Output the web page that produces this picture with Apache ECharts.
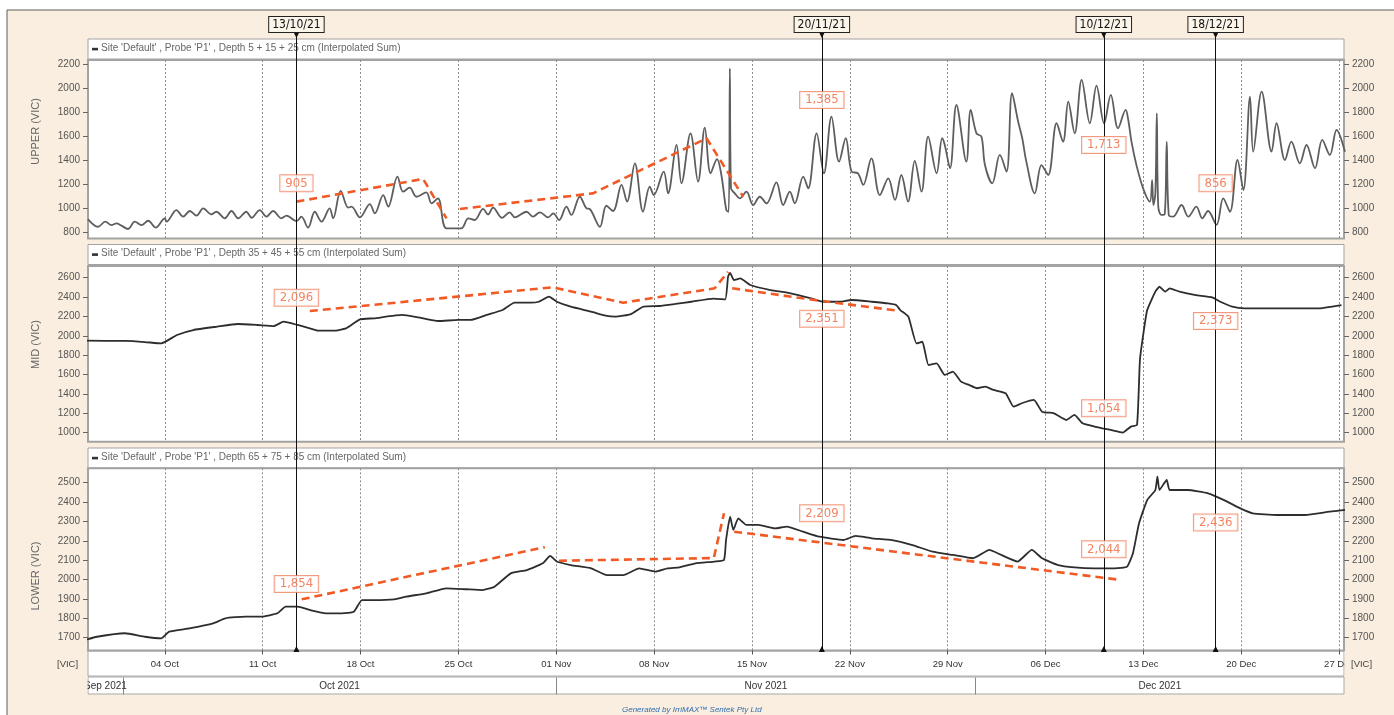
<!DOCTYPE html>
<html><head><meta charset="utf-8">
<script src="https://cdn.jsdelivr.net/npm/echarts@6/dist/echarts.min.js"></script>
<style>html,body{margin:0;padding:0;background:#fff}#c{width:1394px;height:715px}</style>
</head><body><div id="c"></div>
<script>
// ---------------- data ----------------
const markerDates = ['2021-10-13 10:00','2021-11-20 00:00','2021-12-10 04:00','2021-12-18 04:00'];
const markerLabels = ['13/10/21','20/11/21','10/12/21','18/12/21'];
const weekTicks = ['10-04','10-11','10-18','10-25','11-01','11-08','11-15','11-22','11-29','12-06','12-13','12-20','12-27'];
const monthStarts = ['10-01','11-01','12-01'];
const upperTicks = [800,1000,1200,1400,1600,1800,2000,2200];
const midTicks = [1000,1200,1400,1600,1800,2000,2200,2400,2600];
const lowerTicks = [1700,1800,1900,2000,2100,2200,2300,2400,2500];
const panelTitles = [
  "Site 'Default' , Probe 'P1' , Depth 5 + 15 + 25 cm (Interpolated Sum)",
  "Site 'Default' , Probe 'P1' , Depth 35 + 45 + 55 cm (Interpolated Sum)",
  "Site 'Default' , Probe 'P1' , Depth 65 + 75 + 85 cm (Interpolated Sum)"
];
const axisNames = ['UPPER (VIC)','MID (VIC)','LOWER (VIC)'];

const upperSeries = [
['09-28 12:00',908],['09-29 05:30',844],['09-29 18:00',886],['09-30 04:30',858],['09-30 13:00',872],['09-30 21:30',853],
['10-01 09:00',825],['10-01 20:30',886],['10-02 08:00',858],['10-02 19:30',894],['10-03 08:30',836],['10-04 00:00',914],
['10-04 03:00',886],['10-04 20:00',983],['10-05 07:30',928],['10-05 19:00',975],['10-06 06:30',936],['10-06 18:00',997],
['10-07 08:00',947],['10-07 16:30',969],['10-08 07:00',914],['10-08 18:30',975],['10-09 06:00',914],['10-09 20:00',969],
['10-10 05:00',919],['10-10 19:00',983],['10-11 06:30',928],['10-11 18:00',975],['10-12 08:00',914],['10-12 17:00',936],
['10-13 10:00',890],['10-13 18:30',928],['10-14 06:00',836],['10-14 17:30',969],['10-15 05:00',886],['10-15 19:00',997],
['10-16 01:00',914],['10-16 14:00',1142],['10-17 03:00',1003],['10-17 08:30',1011],['10-17 23:00',922],['10-18 16:00',1033],
['10-19 00:30',956],['10-19 15:00',1108],['10-19 23:30',1011],['10-20 15:30',1261],['10-21 01:00',1136],['10-21 12:30',1169],
['10-22 00:00',1094],['10-22 17:00',1131],['10-23 02:00',1039],['10-23 13:00',1081],['10-24 03:30',831],['10-25 05:00',831],
['10-25 17:00',914],['10-26 04:00',900],['10-26 18:30',992],['10-27 03:00',947],['10-27 11:30',1003],['10-28 03:00',918],
['10-28 16:00',964],['10-29 01:00',922],['10-29 21:00',969],['10-30 08:00',928],['10-30 20:00',964],['10-31 10:00',922],
['10-31 19:00',956],['11-01 05:00',900],['11-01 17:30',1011],['11-02 02:00',942],['11-02 16:30',1094],['11-03 04:00',997],
['11-03 09:30',992],['11-04 03:00',844],['11-04 14:00',1019],['11-05 01:30',975],['11-05 16:00',1192],['11-06 01:30',1053],
['11-06 15:00',1372],['11-07 05:00',969],['11-07 16:30',1178],['11-07 23:30',1108],['11-08 16:30',1303],['11-09 00:00',1122],
['11-09 14:30',1525],['11-09 23:00',1206],['11-10 14:30',1622],['11-11 03:30',1219],['11-11 15:00',1669],['11-12 01:00',1289],
['11-12 12:00',1408],['11-12 19:30',1275],['11-13 04:00',983],['11-13 08:00',969],['11-13 10:00',2164],['11-13 12:00',1164],
['11-13 18:30',1122],['11-14 03:00',1081],['11-14 14:30',1136],['11-15 02:00',1025],['11-15 13:30',1094],['11-16 01:00',1039],
['11-16 18:00',1214],['11-17 05:30',1025],['11-17 17:00',1136],['11-18 01:30',1039],['11-18 16:00',1261],['11-19 00:30',1164],
['11-19 15:00',1622],['11-20 03:30',1289],['11-20 16:30',1761],['11-21 05:30',1386],['11-21 17:00',1581],['11-22 03:00',1303],
['11-22 14:00',1289],['11-22 23:00',1192],['11-23 13:00',1414],['11-24 03:30',1108],['11-24 18:00',1247],['11-25 05:30',1067],
['11-25 16:30',1275],['11-26 04:00',1053],['11-26 15:30',1392],['11-27 03:00',1136],['11-27 14:30',1594],['11-28 05:00',1289],
['11-28 14:30',1581],['11-28 19:00',1525],['11-29 04:00',1331],['11-29 15:00',1858],['11-30 08:00',1386],['11-30 15:30',1817],
['12-01 01:30',1622],['12-01 10:00',1594],['12-01 16:00',1358],['12-02 04:30',1206],['12-02 17:30',1442],['12-03 05:00',1303],
['12-03 14:30',1956],['12-04 01:00',1719],['12-04 08:00',1581],['12-04 15:00',1386],['12-05 05:30',1122],['12-05 17:00',1358],
['12-06 04:30',1275],['12-06 19:00',1706],['12-07 06:00',1553],['12-07 15:00',1886],['12-08 02:00',1622],['12-08 14:00',2067],
['12-09 04:00',1706],['12-09 15:30',2019],['12-10 04:30',1706],['12-10 16:00',1942],['12-11 04:30',1664],['12-11 17:30',1817],
['12-11 22:00',1733],['12-12 03:30',1553],['12-12 12:00',1358],['12-12 23:30',1164],['12-13 11:00',1053],['12-13 15:00',1233],
['12-13 17:00',1025],['12-13 20:30',1122],['12-13 23:00',1789],['12-14 01:30',1011],['12-14 07:00',942],['12-14 12:30',947],
['12-14 16:00',1553],['12-14 19:30',942],['12-15 03:00',928],['12-15 17:30',1025],['12-16 05:00',928],['12-16 19:00',1011],
['12-17 05:00',914],['12-17 15:00',975],['12-18 05:30',860],['12-18 17:00',1081],['12-19 04:30',969],['12-19 17:30',1400],
['12-20 03:30',1150],['12-20 15:00',1928],['12-20 20:30',1469],['12-21 11:00',1969],['12-22 04:00',1469],['12-22 12:30',1706],
['12-23 03:00',1400],['12-23 14:00',1553],['12-24 04:30',1372],['12-24 16:00',1525],['12-25 06:30',1331],['12-25 19:00',1567],
['12-26 08:00',1442],['12-26 19:30',1650],['12-27 10:00',1469]
];

const midSeries = [
['09-28 07:00',1950],['10-01 03:30',1947],['10-02 14:00',1936],['10-03 18:00',1922],['10-04 21:00',2009],['10-06 01:00',2060],
['10-07 18:00',2095],['10-09 05:00',2122],['10-10 15:00',2112],['10-11 19:00',2101],['10-12 12:00',2146],['10-13 12:00',2112],
['10-14 09:00',2077],['10-14 22:30',2053],['10-16 02:00',2053],['10-16 23:00',2077],['10-17 23:00',2170],['10-18 23:00',2181],
['10-20 23:30',2216],['10-22 03:00',2191],['10-23 13:30',2153],['10-25 00:00',2164],['10-25 21:00',2164],['10-27 00:30',2216],
['10-28 04:00',2267],['10-29 00:30',2342],['10-30 04:00',2342],['10-30 18:00',2352],['10-31 11:30',2404],['11-01 01:00',2352],
['11-02 01:00',2301],['11-03 12:00',2249],['11-04 15:00',2205],['11-05 05:00',2198],['11-06 08:30',2225],['11-07 05:30',2301],
['11-08 09:00',2308],['11-09 12:30',2329],['11-10 16:00',2352],['11-12 06:00',2385],['11-13 02:00',2377],['11-13 07:00',2611],
['11-13 10:30',2651],['11-13 17:00',2576],['11-14 04:00',2593],['11-14 21:00',2525],['11-16 08:00',2473],['11-17 18:30',2439],
['11-19 05:30',2387],['11-20 02:00',2352],['11-21 06:00',2352],['11-22 03:00',2370],['11-23 13:30',2352],['11-24 17:30',2335],
['11-25 07:30',2318],['11-25 14:30',2266],['11-26 04:30',2198],['11-26 18:30',1922],['11-27 04:30',1939],['11-27 15:00',1699],
['11-28 05:00',1716],['11-28 19:00',1596],['11-29 09:00',1631],['11-29 23:00',1527],['11-30 12:30',1493],['12-01 02:30',1459],
['12-01 16:30',1476],['12-02 06:30',1441],['12-03 03:30',1407],['12-03 17:00',1269],['12-04 07:00',1304],['12-05 04:00',1338],
['12-05 18:00',1217],['12-06 14:30',1200],['12-07 11:30',1131],['12-08 01:30',1183],['12-08 15:30',1097],['12-09 12:00',1063],
['12-10 02:00',1045],['12-10 16:00',1028],['12-11 12:30',1001],['12-12 02:30',1063],['12-12 13:00',1080],['12-12 18:00',1751],
['12-13 00:00',2026],['12-13 06:30',2266],['12-13 20:30',2456],['12-14 03:30',2507],['12-14 13:30',2456],['12-14 21:00',2490],
['12-15 14:00',2456],['12-16 18:00',2421],['12-17 22:00',2397],['12-18 12:00',2352],['12-19 08:30',2301],['12-20 05:30',2283],
['12-22 23:00',2283],['12-24 00:00',2283],['12-25 10:30',2283],['12-27 04:00',2318]
];

const lowerSeries = [
['09-28 07:00',1688],['09-29 03:30',1705],['10-01 03:30',1723],['10-02 14:00',1705],['10-03 18:00',1697],['10-04 07:30',1731],
['10-05 18:00',1748],['10-07 11:00',1774],['10-08 08:00',1800],['10-09 18:30',1809],['10-10 22:00',1809],['10-12 01:30',1826],
['10-12 15:30',1860],['10-13 12:00',1860],['10-14 09:00',1843],['10-15 12:30',1826],['10-16 16:00',1826],['10-17 12:30',1834],
['10-18 02:30',1894],['10-18 23:00',1894],['10-20 10:00',1898],['10-21 06:30',1912],['10-22 17:00',1929],['10-24 03:30',1955],
['10-25 14:00',1950],['10-26 17:30',1946],['10-27 14:00',1963],['10-28 18:00',2032],['10-29 21:30',2049],['10-31 01:00',2084],
['10-31 13:30',2122],['11-01 01:00',2093],['11-02 01:00',2075],['11-03 12:00',2058],['11-04 15:00',2023],['11-05 19:00',2023],
['11-06 22:30',2058],['11-08 02:00',2041],['11-08 23:00',2058],['11-09 19:30',2063],['11-10 23:00',2084],['11-12 08:00',2093],
['11-13 00:00',2101],['11-13 03:30',2204],['11-13 10:30',2325],['11-13 16:00',2256],['11-14 00:30',2316],['11-14 14:30',2282],
['11-15 11:00',2282],['11-16 15:00',2264],['11-17 12:00',2273],['11-18 15:30',2247],['11-19 19:30',2221],['11-21 13:00',2204],
['11-22 10:00',2225],['11-23 13:30',2213],['11-25 00:30',2204],['11-26 11:30',2178],['11-27 22:00',2144],['11-29 09:00',2127],
['11-30 19:30',2110],['12-01 23:30',2153],['12-02 20:00',2127],['12-04 00:00',2093],['12-05 00:30',2153],['12-05 18:00',2110],
['12-06 21:30',2075],['12-08 01:30',2063],['12-09 12:00',2058],['12-10 23:00',2058],['12-11 20:00',2067],['12-12 06:00',2136],
['12-12 16:30',2290],['12-13 06:30',2410],['12-13 20:30',2462],['12-14 00:00',2531],['12-14 03:30',2462],['12-14 16:00',2514],
['12-14 21:00',2462],['12-16 04:00',2462],['12-17 15:00',2445],['12-18 18:30',2410],['12-19 22:30',2367],['12-20 19:30',2342],
['12-22 13:00',2333],['12-24 13:30',2333],['12-26 07:30',2350],['12-27 10:00',2359]
];

const upperTrend = [
  [['10-13 10:00',1053],['10-22 11:30',1242],['10-24 03:40',914]],
  [['10-25 02:30',992],['11-03 15:00',1122],['11-11 18:00',1581],['11-14 09:00',1094]]
];
const midTrend = [
  [['10-14 09:00',2256],['10-31 18:00',2501],['11-05 19:00',2342],['11-12 08:00',2491],['11-13 07:00',2662]],
  [['11-13 14:00',2491],['11-19 19:30',2363],['11-25 11:00',2259]]
];
const lowerTrend = [
  [['10-13 19:00',1898],['10-31 04:30',2167]],
  [['11-01 04:30',2097],['11-12 06:30',2111],['11-13 00:00',2342]],
  [['11-13 17:30',2247],['12-11 09:30',1998]]
];

const upperNotes = ['905','1,385','1,713','856'];
const upperNoteAt = [1206,1900,1525,1206];
const midNotes = ['2,096','2,351','1,054','2,373'];
const midNoteAt = [2394,2177,1252,2153];
const lowerNotes = ['1,854','2,209','2,044','2,436'];
const lowerNoteAt = [1977,2342,2156,2294];

// ---------------- helpers ----------------
function ts(s){
  const m = s.match(/(\d+)-(\d+)-(\d+)(?:[ T](\d+):(\d+))?/);
  return new Date(+m[1], +m[2]-1, +m[3], +(m[4]||0), +(m[5]||0)).getTime();
}
function yr(s){ return ts('2021-' + s); }
const MON = ['Jan','Feb','Mar','Apr','May','Jun','Jul','Aug','Sep','Oct','Nov','Dec'];
function fmtDay(v){ const d = new Date(v); return String(d.getDate()).padStart(2,'0') + ' ' + MON[d.getMonth()]; }
function fmtMonth(v){ const d = new Date(v); return MON[d.getMonth()] + ' ' + d.getFullYear(); }

const xMin = ts('2021-09-28 12:12');
const xMax = ts('2021-12-27 08:20');
const weekTs = weekTicks.map(yr);
const bounds = [xMin].concat(monthStarts.map(yr), [xMax]);
const monthMids = bounds.slice(0,-1).map((b,i)=> (b + bounds[i+1]) / 2);

const FONT = 'Liberation Sans';
const NARROW = "'Liberation Sans Narrow','DejaVu Sans Condensed','Liberation Sans'";
const BEIGE = '#f9eedf';

const gridDefs = [
  {top:60, height:178.5, min:746, max:2233, ticks:upperTicks},
  {top:266, height:175.7, min:907, max:2721, ticks:midTicks},
  {top:468.3, height:182.2, min:1634, max:2574, ticks:lowerTicks}
];
const nameCenters = [131.5, 344.5, 576];

const grids = gridDefs.map(g => ({left:88, width:1256, top:g.top, height:g.height, show:true,
  backgroundColor:'#fff', borderColor:'#a3a3a3', borderWidth:2}));
grids.push({left:88, width:1256, top:35, bottom:66, show:false});

const xAxes = [];
for (let i=0;i<3;i++){
  xAxes.push({type:'value', gridIndex:i, min:xMin, max:xMax, scale:true,
    axisLine:{show:false},
    axisTick:{show:i===2, length:4, customValues:weekTs, lineStyle:{color:'#555'}},
    axisLabel:{show:i===2, customValues:weekTs, formatter:fmtDay, fontSize:9.5, color:'#333', margin:9, fontFamily:FONT},
    splitLine:{show:true, lineStyle:{color:'#8c8c8c', type:[2,2], width:1}}
  });
}
xAxes.push({type:'value', gridIndex:2, min:xMin, max:xMax, scale:true, position:'bottom', offset:27,
  axisLine:{show:false},
  axisTick:{show:true, inside:false, length:17, customValues:monthStarts.map(yr), lineStyle:{color:'#888'}},
  axisLabel:{show:true, customValues:monthMids, formatter:fmtMonth, fontSize:10, color:'#333', margin:3.5, fontFamily:FONT},
  splitLine:{show:false}
});
xAxes.push({type:'value', gridIndex:3, min:xMin, max:xMax, scale:true, show:false});

const yAxes = [];
gridDefs.forEach((g,i)=>{
  ['left','right'].forEach(pos=>{
    yAxes.push({type:'value', gridIndex:i, position:pos, min:g.min, max:g.max,
      axisLine:{show:false},
      axisTick:{show:true, length:5, customValues:g.ticks, lineStyle:{color:'#666'}},
      axisLabel:{customValues:g.ticks, formatter:v=>String(v), fontSize:10, color:'#555', margin:8, fontFamily:FONT},
      splitLine:{show:false}
    });
  });
});
yAxes.push({type:'value', gridIndex:3, min:0, max:1, show:false});

const series = [];
const sets = [
  {data:upperSeries, trend:upperTrend, notes:upperNotes, at:upperNoteAt, color:'#5e5e5e', w:1.8, smooth:0.35},
  {data:midSeries, trend:midTrend, notes:midNotes, at:midNoteAt, color:'#2d2d2d', w:1.8, smooth:0.15},
  {data:lowerSeries, trend:lowerTrend, notes:lowerNotes, at:lowerNoteAt, color:'#2d2d2d', w:1.8, smooth:0.15}
];
sets.forEach((s,i)=>{
  series.push({type:'line', xAxisIndex:i, yAxisIndex:2*i, showSymbol:false, symbol:'none', animation:false,
    smooth:s.smooth, lineStyle:{color:s.color, width:s.w}, data:s.data.map(p=>[yr(p[0]), p[1]]), z:3});
  s.trend.forEach(seg=>{
    series.push({type:'line', xAxisIndex:i, yAxisIndex:2*i, showSymbol:false, symbol:'none', animation:false,
      lineStyle:{color:'#f15a24', width:2.6, type:[8,5]}, data:seg.map(p=>[yr(p[0]), p[1]]), z:4});
  });
  series.push({type:'scatter', xAxisIndex:i, yAxisIndex:2*i, symbol:'rect', symbolSize:1, animation:false, z:6,
    itemStyle:{color:'rgba(0,0,0,0)'},
    data: markerDates.map((d,k)=>({value:[ts(d), s.at[k]], name:s.notes[k]})),
    label:{show:true, position:'inside', formatter:'{b}', color:'#f0643a', fontSize:13, fontFamily:NARROW,
      backgroundColor:'#fff', borderColor:'#f0825f', borderWidth:1, padding:[2,5,1,5]}
  });
});
series.push({type:'line', xAxisIndex:4, yAxisIndex:6, data:[], animation:false, z:8,
  markLine:{silent:true, animation:false, symbol:['triangle','triangle'], symbolSize:6, symbolRotate:[0,180],
    lineStyle:{color:'#111', width:1, type:'solid'},
    itemStyle:{color:'#111'},
    label:{show:true, position:'end', formatter:'{b}', color:'#111', fontSize:12, fontFamily:NARROW,
      backgroundColor:'#fbf4e9', borderColor:'#222', borderWidth:1, padding:[2,3,1,3], distance:3},
    emphasis:{disabled:true},
    data: markerDates.map((d,k)=>({xAxis:ts(d), name:markerLabels[k]}))
  }
});

const titleY = [39, 244.5, 448];
const graphics = [
  {type:'rect', z:-10, shape:{x:7, y:10, width:1400, height:710}, style:{fill:BEIGE, stroke:'#5a5a5a', lineWidth:1}},
  {type:'rect', z:-5, shape:{x:88, y:651, width:1256, height:25}, style:{fill:'#fff', stroke:'#a8a8a8', lineWidth:1}},
  {type:'rect', z:-5, shape:{x:88, y:677, width:1256, height:17}, style:{fill:'#fff', stroke:'#a8a8a8', lineWidth:1}},
  {type:'rect', z:100, shape:{x:60, y:676.5, width:27.5, height:19}, style:{fill:BEIGE}},
  {type:'rect', z:100, shape:{x:1344.5, y:651, width:12, height:26}, style:{fill:BEIGE}},
  {type:'text', z:101, x:57, y:659, style:{text:'[VIC]', fontSize:9.5, fill:'#444', fontFamily:FONT}},
  {type:'text', z:101, x:1351, y:659, style:{text:'[VIC]', fontSize:9.5, fill:'#444', fontFamily:FONT}},
  {type:'text', z:101, x:622, y:706, style:{text:'Generated by IrriMAX\u2122 Sentek Pty Ltd', fontSize:8, fontStyle:'italic', fill:'#2f6eb0', fontFamily:FONT}}
];
titleY.forEach((y,i)=>{
  graphics.push({type:'rect', z:-5, shape:{x:88, y:y, width:1256, height:20}, style:{fill:'#fff', stroke:'#a3a3a3', lineWidth:1}});
  graphics.push({type:'rect', z:-4, shape:{x:92, y:y+8.8, width:6, height:2.6}, style:{fill:'#333'}});
  graphics.push({type:'text', z:-4, x:101, y:y+4, style:{text:panelTitles[i], fontSize:10, fill:'#666', fontFamily:FONT}});
  graphics.push({type:'text', z:1, x:36, y:nameCenters[i], rotation:Math.PI/2,
    style:{text:axisNames[i], fontSize:11, fill:'#666', fontFamily:FONT, align:'center', verticalAlign:'middle'}});
});

const chart = echarts.init(document.getElementById('c'), null, {renderer:'canvas'});
chart.setOption({
  animation:false,
  backgroundColor:'#ffffff',
  textStyle:{fontFamily:FONT},
  grid:grids, xAxis:xAxes, yAxis:yAxes, series:series,
  graphic:{elements:graphics}
});
</script></body></html>
